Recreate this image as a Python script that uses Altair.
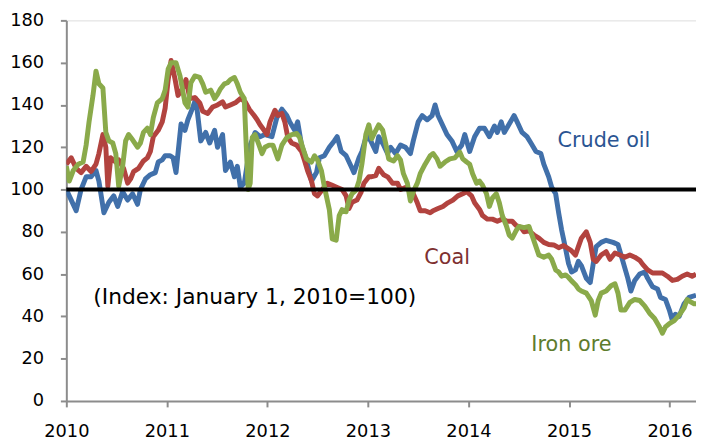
import altair as alt
import pandas as pd

# Crude oil index (decimal year, value)
oil_x = [2010.000, 2010.049, 2010.098, 2010.147, 2010.197, 2010.246, 2010.295, 2010.324, 2010.374, 2010.423,
         2010.472, 2010.511, 2010.560, 2010.610, 2010.659, 2010.708, 2010.737, 2010.787, 2010.836, 2010.885,
         2010.914, 2010.954, 2010.983, 2011.032, 2011.062, 2011.091, 2011.141, 2011.180, 2011.209, 2011.259,
         2011.288, 2011.337, 2011.386, 2011.426, 2011.475, 2011.504, 2011.554, 2011.583, 2011.632, 2011.672,
         2011.701, 2011.731, 2011.770, 2011.829, 2011.878, 2011.927, 2011.976, 2012.045, 2012.094, 2012.144,
         2012.193, 2012.222, 2012.271, 2012.301, 2012.340, 2012.389, 2012.439, 2012.488, 2012.517, 2012.566,
         2012.616, 2012.665, 2012.694, 2012.734, 2012.783, 2012.832, 2012.861, 2012.911, 2012.940, 2012.989,
         2013.028, 2013.078, 2013.107, 2013.156, 2013.196, 2013.225, 2013.274, 2013.324, 2013.373, 2013.422,
         2013.451, 2013.500, 2013.540, 2013.589, 2013.638, 2013.668, 2013.697, 2013.737, 2013.786, 2013.835,
         2013.884, 2013.933, 2013.963, 2014.012, 2014.061, 2014.110, 2014.159, 2014.208, 2014.258, 2014.287,
         2014.326, 2014.356, 2014.405, 2014.454, 2014.484, 2014.533, 2014.582, 2014.621, 2014.671, 2014.720,
         2014.749, 2014.798, 2014.828, 2014.867, 2014.897, 2014.926, 2014.966, 2014.995, 2015.025, 2015.064,
         2015.093, 2015.123, 2015.172, 2015.211, 2015.241, 2015.270, 2015.320, 2015.369, 2015.438, 2015.487,
         2015.536, 2015.585, 2015.615, 2015.654, 2015.703, 2015.752, 2015.782, 2015.831, 2015.880, 2015.910,
         2015.959, 2015.998, 2016.028, 2016.057, 2016.096, 2016.145, 2016.195, 2016.263]
oil_y = [100, 95, 90, 100, 106, 106, 109, 104, 89, 94,
         97, 92, 99, 95, 98, 93, 100, 105, 107, 108,
         113, 114, 116, 116, 115, 108, 131, 128, 133, 139,
         143, 123, 127, 122, 128, 120, 126, 109, 113, 106,
         111, 101, 103, 121, 127, 125, 126, 125, 134, 138,
         135, 132, 128, 132, 121, 114, 104, 108, 115, 116,
         120, 123, 125, 118, 116, 111, 108, 115, 118, 126,
         123, 118, 125, 121, 117, 120, 117, 121, 120, 117,
         123, 132, 135, 133, 135, 140, 135, 131, 126, 123,
         118, 121, 126, 118, 125, 129, 129, 125, 130, 127,
         132, 127, 131, 135, 132, 127, 125, 122, 118, 117,
         112, 106, 101, 98, 89, 81, 72, 65, 61, 62,
         66, 64, 58, 56, 65, 73, 75, 76, 75, 74,
         66, 58, 52, 57, 60, 61, 58, 54, 53, 49,
         48, 43, 38, 41, 40, 46, 49, 50]

# Coal index
coal_x = [2010.000, 2010.049, 2010.098, 2010.147, 2010.197, 2010.246, 2010.295, 2010.324, 2010.364, 2010.393,
          2010.413, 2010.442, 2010.492, 2010.521, 2010.570, 2010.610, 2010.639, 2010.669, 2010.718, 2010.767,
          2010.806, 2010.836, 2010.865, 2010.914, 2010.954, 2010.983, 2011.013, 2011.042, 2011.082, 2011.111,
          2011.160, 2011.190, 2011.229, 2011.278, 2011.327, 2011.357, 2011.406, 2011.455, 2011.504, 2011.554,
          2011.583, 2011.632, 2011.681, 2011.731, 2011.780, 2011.819, 2011.868, 2011.898, 2011.927, 2011.967,
          2011.996, 2012.026, 2012.075, 2012.104, 2012.144, 2012.173, 2012.203, 2012.242, 2012.291, 2012.340,
          2012.370, 2012.399, 2012.439, 2012.468, 2012.498, 2012.547, 2012.596, 2012.645, 2012.694, 2012.743,
          2012.783, 2012.812, 2012.842, 2012.891, 2012.930, 2012.960, 2013.009, 2013.028, 2013.078, 2013.107,
          2013.156, 2013.196, 2013.245, 2013.294, 2013.324, 2013.373, 2013.422, 2013.451, 2013.491, 2013.520,
          2013.569, 2013.619, 2013.648, 2013.697, 2013.746, 2013.795, 2013.845, 2013.894, 2013.943, 2013.982,
          2014.031, 2014.061, 2014.110, 2014.140, 2014.189, 2014.238, 2014.287, 2014.336, 2014.385, 2014.435,
          2014.474, 2014.523, 2014.553, 2014.602, 2014.651, 2014.700, 2014.749, 2014.798, 2014.848, 2014.897,
          2014.946, 2014.995, 2015.025, 2015.064, 2015.093, 2015.123, 2015.172, 2015.211, 2015.241, 2015.270,
          2015.320, 2015.369, 2015.408, 2015.457, 2015.506, 2015.556, 2015.605, 2015.654, 2015.703, 2015.733,
          2015.782, 2015.831, 2015.880, 2015.929, 2015.978, 2016.028, 2016.077, 2016.126, 2016.175, 2016.224,
          2016.263]
coal_y = [112, 115, 110, 108, 111, 108.5, 112, 117, 126, 120,
          101.5, 115, 113, 114, 110, 103, 105, 108.5, 110, 113.5,
          115, 118, 125, 128, 132, 138.5, 152, 161, 152, 144.5,
          148, 152, 143, 143.5, 141, 137, 136, 139, 140, 141.5,
          139, 140, 141, 143, 141.5, 138, 135, 133, 130.6, 128,
          126, 132, 137.5, 135, 136, 132, 124.6, 122, 121, 118,
          113.6, 109, 104, 98, 97, 100, 103, 102, 101, 100,
          97, 91, 94, 95, 98.5, 103, 106, 106, 106.6, 110,
          107, 106, 103, 103, 100, 101, 99.5, 98, 93.7, 90,
          90, 89, 90, 91, 92, 93.7, 95, 97, 98, 99,
          97, 93.7, 90.6, 87.7, 86, 86, 85, 86, 85, 85,
          83, 82, 80, 80.5, 78.5, 77, 75, 74, 73.8, 72.5,
          73.5, 72, 71, 69, 73, 77, 80, 75, 67, 66,
          69, 70.6, 67, 70, 69, 68, 69, 68, 66.5, 64.6,
          62, 60.5, 60.5, 60.5, 59, 57, 57.5, 59, 60, 59,
          60]

# Iron ore index
ore_x = [2010.000, 2010.029, 2010.069, 2010.118, 2010.167, 2010.197, 2010.226, 2010.265, 2010.295, 2010.324,
         2010.364, 2010.393, 2010.423, 2010.462, 2010.492, 2010.521, 2010.560, 2010.590, 2010.619, 2010.659,
         2010.708, 2010.737, 2010.767, 2010.806, 2010.836, 2010.865, 2010.905, 2010.954, 2010.983, 2011.013,
         2011.042, 2011.091, 2011.131, 2011.180, 2011.209, 2011.239, 2011.278, 2011.327, 2011.357,
         2011.386, 2011.436, 2011.475, 2011.504, 2011.534, 2011.573, 2011.603, 2011.632, 2011.672, 2011.701,
         2011.731, 2011.770, 2011.790, 2011.809, 2011.829, 2011.849, 2011.878, 2011.917, 2011.947, 2011.976,
         2012.016, 2012.055, 2012.104, 2012.144, 2012.193, 2012.242, 2012.291, 2012.321, 2012.350, 2012.389,
         2012.439, 2012.468, 2012.498, 2012.537, 2012.566, 2012.616, 2012.645, 2012.684, 2012.714, 2012.743,
         2012.783, 2012.812, 2012.842, 2012.881, 2012.911, 2012.940, 2012.979, 2013.009, 2013.038, 2013.068,
         2013.107, 2013.147, 2013.176, 2013.206, 2013.255, 2013.294, 2013.324, 2013.353, 2013.392, 2013.422,
         2013.451, 2013.491, 2013.520, 2013.569, 2013.619, 2013.648, 2013.687, 2013.717, 2013.766, 2013.815,
         2013.864, 2013.914, 2013.943, 2013.982, 2014.012, 2014.041, 2014.081, 2014.110, 2014.140, 2014.179,
         2014.208, 2014.238, 2014.277, 2014.307, 2014.336, 2014.376, 2014.405, 2014.435, 2014.474, 2014.503,
         2014.553, 2014.602, 2014.631, 2014.671, 2014.700, 2014.749, 2014.798, 2014.828, 2014.867, 2014.897,
         2014.926, 2014.966, 2014.995, 2015.025, 2015.064, 2015.093, 2015.123, 2015.172, 2015.221, 2015.261,
         2015.290, 2015.320, 2015.369, 2015.418, 2015.457, 2015.487, 2015.516, 2015.556, 2015.605, 2015.654,
         2015.703, 2015.752, 2015.801, 2015.851, 2015.900, 2015.929, 2015.959, 2015.998, 2016.047, 2016.096,
         2016.145, 2016.175, 2016.205, 2016.244, 2016.263]
ore_y = [111, 104, 109, 112, 113, 121, 132, 144.5, 156, 150,
         148, 127, 123, 122, 117, 101.5, 111, 123, 126, 123.5,
         120, 122, 127, 129, 126, 134, 141, 143, 147, 157,
         160, 160, 153.7, 141, 139, 150.5, 153.7, 153, 150,
         146, 147, 143, 145, 147.7, 150, 150.5, 152, 153, 150,
         146, 143, 120, 100, 103, 124.6, 126, 121, 117, 120,
         121, 121, 114.5, 121, 124.6, 126, 126.5, 124.6, 120, 114.5,
         113, 116, 114, 109, 101.5, 90.5, 76.6, 76, 87.7, 90.5,
         89.5, 95, 98, 99.7, 104, 112, 126, 130.6, 124, 127,
         130.6, 128, 122, 114.5, 113.5, 116, 114, 107.5, 103, 94.6,
         99, 103, 107.5, 112, 116, 117, 114.5, 111, 113, 114.5,
         115, 117.7, 114.5, 113, 112, 107.5, 103, 104, 102, 98,
         92, 96, 98, 93.7, 87.7, 83, 78.5, 77, 80.6, 82.5,
         82, 82.5, 78.5, 73, 69, 68, 69, 67, 62, 61,
         59, 59.6, 58.4, 56.8, 55, 53, 52, 51, 47.5, 40.6,
         47.5, 51, 52, 54.5, 55.4, 51, 43, 43, 46.6, 48,
         47.5, 45, 41.5, 39, 35, 32, 35, 36.6, 38, 40.6,
         44, 48, 47, 46, 46]

series_names = ["Crude oil", "Coal", "Iron ore"]
line_colors = ["#4170AA", "#B2433F", "#8AAA4A"]
label_colors = ["#2B5592", "#7E3030", "#5E7C2C"]
# label anchor positions (decimal year, index value)
label_x = [2014.885, 2013.560, 2014.625]
label_y = [120, 64.8, 23.7]

note_text = "(Index: January 1, 2010=100)"
note_x = [2010.268]
note_y = [46]

x_ticks = [2010, 2011, 2012, 2013, 2014, 2015, 2016]
y_ticks = [0, 20, 40, 60, 80, 100, 120, 140, 160, 180]
base_level = [100]

rows = []
for x, y in zip(oil_x, oil_y):
    rows.append({"t": x, "v": y, "s": "Crude oil"})
for x, y in zip(coal_x, coal_y):
    rows.append({"t": x, "v": y, "s": "Coal"})
for x, y in zip(ore_x, ore_y):
    rows.append({"t": x, "v": y, "s": "Iron ore"})
df = pd.DataFrame(rows)

labels_df = pd.DataFrame({"t": label_x, "v": label_y, "s": series_names, "c": label_colors})
note_df = pd.DataFrame({"t": note_x, "v": note_y, "txt": [note_text]})
base_df = pd.DataFrame({"v": base_level})

FONT = "DejaVu Sans"
xscale = alt.Scale(domain=[2010, 2016.263], nice=False, zero=False)
yscale = alt.Scale(domain=[0, 180], nice=False)

x_axis = alt.Axis(values=x_ticks, format="d", title=None, grid=False,
                  labelFontSize=18, labelFont=FONT, labelColor="#000000",
                  domainColor="#8C8C8C", tickColor="#8C8C8C", tickSize=6,
                  domainWidth=2, tickWidth=2, labelPadding=16, labelFlush=False)
y_axis = alt.Axis(values=y_ticks, title=None, grid=False,
                  labelFontSize=18, labelFont=FONT, labelColor="#000000",
                  domainColor="#8C8C8C", tickColor="#8C8C8C", tickSize=6,
                  domainWidth=2, tickWidth=2, labelPadding=17)

lines = alt.Chart(df).mark_line(strokeWidth=5, clip=True, strokeJoin="round").encode(
    x=alt.X("t:Q", scale=xscale, axis=x_axis),
    y=alt.Y("v:Q", scale=yscale, axis=y_axis),
    color=alt.Color("s:N", scale=alt.Scale(domain=series_names, range=line_colors), legend=None),
    order=alt.Order("t:Q"),
)

base = alt.Chart(base_df).mark_rule(color="#000000", strokeWidth=4).encode(
    y=alt.Y("v:Q", scale=yscale)
)

labels = alt.Chart(labels_df).mark_text(align="left", baseline="alphabetic", fontSize=21, font=FONT).encode(
    x=alt.X("t:Q", scale=xscale),
    y=alt.Y("v:Q", scale=yscale),
    text="s:N",
    color=alt.Color("c:N", scale=None),
)

note = alt.Chart(note_df).mark_text(align="left", baseline="alphabetic", fontSize=22, font=FONT, color="#000000").encode(
    x=alt.X("t:Q", scale=xscale),
    y=alt.Y("v:Q", scale=yscale),
    text="txt:N",
)

chart = alt.layer(lines, base, labels, note).properties(
    width=637, height=385,
    autosize=alt.AutoSizeParams(type="none"),
    padding={"left": 59, "top": 10, "right": 0, "bottom": 40},
).configure_view(stroke=None).configure(background="#FFFFFF")

chart.save("out.html", embed_options={"renderer": "svg", "actions": False})
